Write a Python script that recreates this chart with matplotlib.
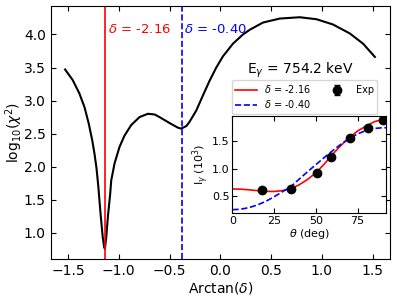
import matplotlib
matplotlib.use("Agg")
import matplotlib.pyplot as plt
import numpy as np

# Main chi^2 curve
arctan_delta = [-1.529, -1.454, -1.388, -1.338, -1.296, -1.262, -1.240, -1.220, -1.203, -1.180,
                -1.158, -1.144, -1.137, -1.124, -1.108, -1.085, -1.075, -1.042, -0.993, -0.944,
                -0.878, -0.796, -0.714, -0.648, -0.599, -0.500, -0.418, -0.385, -0.335, -0.303,
                -0.237, -0.171, -0.106, -0.040, 0.026, 0.124, 0.223, 0.289, 0.420, 0.585,
                0.782, 0.947, 1.110, 1.275, 1.406, 1.522]
log_chi2 = [3.47, 3.31, 3.106, 2.90, 2.65, 2.40, 2.20, 1.98, 1.72, 1.29,
            0.93, 0.78, 0.76, 0.93, 1.24, 1.59, 1.79, 2.05, 2.30, 2.47,
            2.63, 2.75, 2.80, 2.79, 2.75, 2.66, 2.59, 2.576, 2.615, 2.68,
            2.85, 3.08, 3.30, 3.50, 3.67, 3.86, 4.00, 4.07, 4.18, 4.24,
            4.26, 4.23, 4.15, 4.015, 3.86, 3.66]

delta_1 = -2.16
delta_2 = -0.40
energy_label = "E$_\\gamma$ = 754.2 keV"

# Inset: angular distribution
theta_exp = [17.5, 35.0, 50.5, 59.0, 70.5, 81.0, 90.5]
intensity_exp = [0.61, 0.62, 0.92, 1.21, 1.56, 1.75, 1.89]
intensity_err = [0.03, 0.03, 0.03, 0.03, 0.03, 0.03, 0.03]

theta_fit = [0, 5, 10, 15, 20, 25, 30, 35, 40, 45, 50, 55, 60, 65, 70, 75, 80, 85, 90, 92]
fit_d1 = [0.630, 0.626, 0.614, 0.599, 0.586, 0.584, 0.599, 0.638, 0.706, 0.804,
          0.925, 1.085, 1.265, 1.425, 1.570, 1.690, 1.780, 1.860, 1.900, 1.905]
fit_d2 = [0.250, 0.260, 0.289, 0.338, 0.404, 0.488, 0.580, 0.675, 0.810, 0.945,
          1.075, 1.205, 1.330, 1.448, 1.553, 1.637, 1.699, 1.737, 1.750, 1.750]

fig = plt.figure(figsize=(3.97, 3.00), dpi=100)
ax = fig.add_axes([0.1277, 0.1357, 0.8547, 0.8443])

ax.plot(arctan_delta, log_chi2, color="black", lw=1.5)
ax.axvline(np.arctan(delta_1), color="red", lw=1.2)
ax.axvline(np.arctan(delta_2), color="blue", lw=1.2, ls="--")
ax.text(np.arctan(delta_1) + 0.035, 4.08, "$\\delta$ = %.2f" % delta_1, color="red",
        fontsize=9.5, va="center", ha="left")
ax.text(np.arctan(delta_2) + 0.02, 4.08, "$\\delta$ = %.2f" % delta_2, color="blue",
        fontsize=9.5, va="center", ha="left")
ax.text(0.79, 3.46, energy_label, fontsize=10, ha="center", va="center")

ax.set_xlim(-1.671, 1.671)
ax.set_ylim(0.6, 4.43)
ax.set_xticks([-1.5, -1.0, -0.5, 0.0, 0.5, 1.0, 1.5])
ax.set_yticks([1.0, 1.5, 2.0, 2.5, 3.0, 3.5, 4.0])
ax.tick_params(direction="in", top=True, right=True, labelsize=10)
ax.set_xlabel("Arctan($\\delta$)", fontsize=10, labelpad=1)
ax.set_ylabel("log$_{10}$($\\chi^2$)", fontsize=10, labelpad=-1)

ins = fig.add_axes([0.5856, 0.29, 0.3866, 0.3243])
l1, = ins.plot(theta_fit, fit_d1, color="red", lw=1.2, label="$\\delta$ = %.2f" % delta_1)
l2, = ins.plot(theta_fit, fit_d2, color="blue", lw=1.2, ls="--", label="$\\delta$ = %.2f" % delta_2)
eb = ins.errorbar(theta_exp, intensity_exp, yerr=intensity_err, fmt="o", color="black",
                  ms=6, capsize=2, label="Exp", zorder=5)
ins.set_xlim(0, 92)
ins.set_ylim(0.19, 1.97)
ins.set_xticks([0, 25, 50, 75])
ins.set_yticks([0.5, 1.0, 1.5])
ins.tick_params(direction="in", top=True, right=True, labelsize=8, pad=2)
ins.set_xlabel("$\\theta$ (deg)", fontsize=8, labelpad=1)
ins.set_ylabel("I$_\\gamma$ (10$^3$)", fontsize=8, labelpad=1)
ins.legend(handles=[l1, l2, eb], ncol=2, fontsize=7, loc="lower center",
           bbox_to_anchor=(0.47, 0.97), frameon=True, borderpad=0.35,
           handlelength=2.2, columnspacing=1.6, labelspacing=0.3)

fig.savefig("out.png", dpi=100)
